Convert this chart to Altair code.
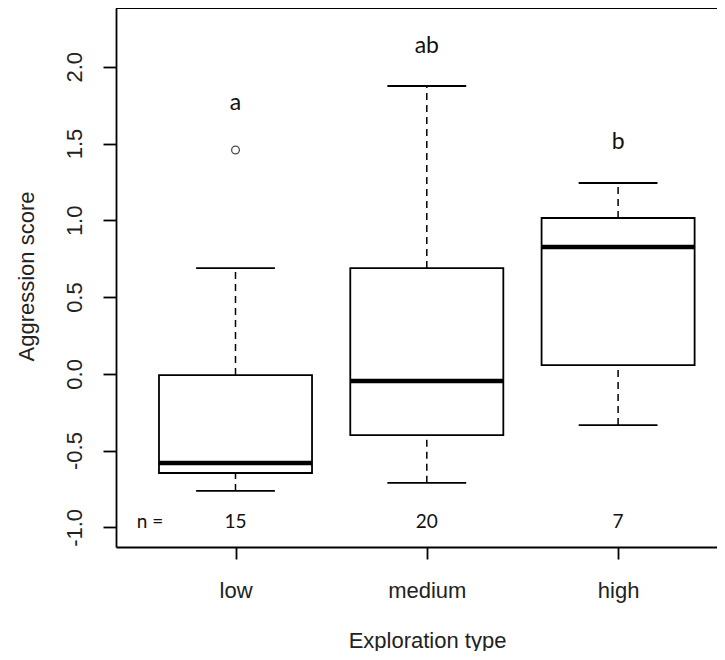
import altair as alt
import pandas as pd

# ---- data ----
groups = ["low", "medium", "high"]
positions = [1, 2, 3]
lower_whisker = [-0.763, -0.710, -0.334]
q1 = [-0.646, -0.399, 0.057]
median = [-0.581, -0.047, 0.826]
q3 = [-0.008, 0.689, 1.015]
upper_whisker = [0.689, 1.875, 1.243]
outlier_pos = [1]
outlier_value = [1.458]
sig_letters = ["a", "ab", "b"]
letter_y = [1.719, 2.09, 1.465]
n_counts = ["15", "20", "7"]

df = pd.DataFrame({
    "group": groups, "pos": positions, "lw": lower_whisker, "q1": q1,
    "med": median, "q3": q3, "uw": upper_whisker,
    "letter": sig_letters, "ly": letter_y, "n": n_counts,
})
out_df = pd.DataFrame({"pos": outlier_pos, "val": outlier_value})

W, H = 601, 539
xscale = alt.Scale(domain=[0.3753, 3.517], nice=False, zero=False)
yscale = alt.Scale(domain=[-1.128, 2.383], nice=False, zero=False)

xaxis = alt.Axis(
    values=positions, labelExpr=f"{groups}[datum.value - 1]",
    title="Exploration type", titleX=311, titleY=100, titleAlign="center",
    titleBaseline="alphabetic", titleAngle=0,
    tickSize=12, labelPadding=38, labelBaseline="alphabetic", labelAlign="center",
    labelAngle=0,
)
yaxis = alt.Axis(
    values=[-1.0, -0.5, 0.0, 0.5, 1.0, 1.5, 2.0],
    labelExpr="(datum.value < 0 ? '-' : '') + format(abs(datum.value), '.1f')",
    labelAngle=270, labelAlign="center", labelBaseline="alphabetic",
    tickSize=13, labelPadding=22,
    title="Aggression score", titleAngle=270, titleX=-83, titleY=268,
    titleAlign="center", titleBaseline="alphabetic",
)


def X(field):
    return alt.X(field, type="quantitative", scale=xscale, axis=xaxis)


def Y(field):
    return alt.Y(field, type="quantitative", scale=yscale, axis=yaxis)


base = alt.Chart(df).transform_calculate(
    bx1="datum.pos - 0.4", bx2="datum.pos + 0.4",
    cx1="datum.pos - 0.206", cx2="datum.pos + 0.206",
)

whisk_up = base.mark_rule(color="black", strokeWidth=1.5, strokeDash=[7, 5]).encode(
    x=X("pos"), y=Y("q3"), y2="uw")
whisk_lo = base.mark_rule(color="black", strokeWidth=1.5, strokeDash=[7, 5]).encode(
    x=X("pos"), y=Y("lw"), y2="q1")
box = base.mark_rect(fill="white", stroke="black", strokeWidth=1.8).encode(
    x=X("bx1"), x2="bx2", y=Y("q1"), y2="q3")
med = base.mark_rule(color="black", strokeWidth=4.5).encode(
    x=X("bx1"), x2="bx2", y=Y("med"))
cap_up = base.mark_rule(color="black", strokeWidth=1.8).encode(
    x=X("cx1"), x2="cx2", y=Y("uw"))
cap_lo = base.mark_rule(color="black", strokeWidth=1.8).encode(
    x=X("cx1"), x2="cx2", y=Y("lw"))

outl = alt.Chart(out_df).mark_point(
    shape="circle", filled=False, size=60, stroke="black", strokeWidth=1.3
).encode(x=X("pos"), y=Y("val"))

letters = base.mark_text(font="Lato", fontSize=23, baseline="alphabetic",
                         align="center", color="#111").encode(
    x=X("pos"), y=Y("ly"), text="letter:N")

ntext = base.mark_text(font="Lato", fontSize=19, baseline="alphabetic",
                       align="center", color="#111").encode(
    x=X("pos"), y=alt.value(520), text="n:N")
nlabel = alt.Chart(pd.DataFrame({"t": ["n ="]})).mark_text(
    font="Lato", fontSize=19, baseline="alphabetic", align="center", color="#111"
).encode(x=alt.value(34), y=alt.value(520), text="t:N")

top_line = alt.Chart(pd.DataFrame({"t": [0]})).mark_rule(
    color="black", strokeWidth=1.8
).encode(x=alt.value(0), x2=alt.value(W), y=alt.value(0))

chart = alt.layer(
    whisk_up, whisk_lo, box, med, cap_up, cap_lo, outl, letters, ntext, nlabel, top_line
).properties(
    width=W, height=H,
    autosize=alt.AutoSizeParams(type="none"),
    padding={"left": 108, "top": 0, "right": 0, "bottom": 104},
    background="white",
).configure_view(stroke=None).configure_axis(
    grid=False, domainColor="black", domainWidth=1.8, tickColor="black",
    tickWidth=1.8, labelFont="Liberation Sans", labelFontSize=22,
    labelColor="#222", titleFont="Liberation Sans", titleFontSize=22,
    titleFontWeight="normal", titleColor="#222", labelOverlap=False,
    labelFlush=False,
)

chart.save("out.html", embed_options={"renderer": "svg", "actions": False})
